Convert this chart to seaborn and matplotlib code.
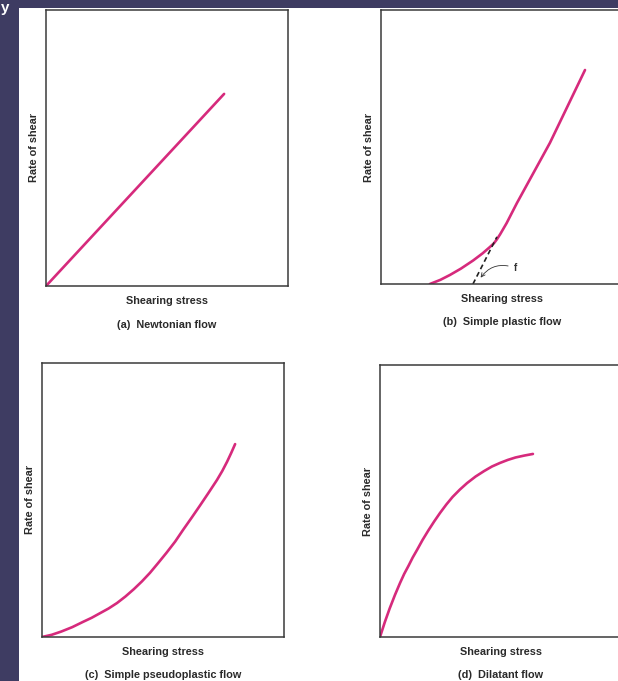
import matplotlib
matplotlib.use('Agg')
import matplotlib.pyplot as plt
from matplotlib.patches import Rectangle
import seaborn as sns
import pandas as pd

sns.set_theme(style='white')
plt.rcParams['font.family'] = ['Liberation Sans', 'DejaVu Sans']

# ── data (axes fractions) ─────────────────────────────────────────
newton_x = [0.0, 0.736]
newton_y = [0.0, 0.696]

plastic_x = [0.202, 0.245, 0.285, 0.330, 0.381, 0.420, 0.450, 0.466, 0.478, 0.492, 0.519, 0.562, 0.698, 0.843]
plastic_y = [0.000, 0.015, 0.033, 0.056, 0.086, 0.112, 0.135, 0.148, 0.162, 0.181, 0.222, 0.296, 0.515, 0.781]
yield_x = [0.380, 0.479]
yield_y = [0.000, 0.172]

pseudo_x = [0.0, 0.04, 0.08, 0.125, 0.169, 0.205, 0.24, 0.275, 0.310, 0.345, 0.38, 0.413,
            0.446, 0.48, 0.515, 0.55, 0.583, 0.618, 0.653, 0.688, 0.723, 0.745, 0.765, 0.782, 0.798]
pseudo_y = [0.0, 0.008, 0.02, 0.036, 0.055, 0.070, 0.087, 0.104, 0.124, 0.148, 0.175, 0.203,
            0.234, 0.270, 0.308, 0.348, 0.391, 0.435, 0.480, 0.526, 0.573, 0.606, 0.640, 0.672, 0.704]

dilat_x = [0.0, 0.02, 0.04, 0.062, 0.083, 0.100, 0.118, 0.135, 0.153, 0.176, 0.20, 0.224, 0.248,
           0.274, 0.30, 0.33, 0.360, 0.395, 0.43, 0.463, 0.496, 0.528, 0.56, 0.596, 0.632]
dilat_y = [0.0, 0.055, 0.105, 0.155, 0.199, 0.232, 0.262, 0.292, 0.320, 0.357, 0.392, 0.425, 0.456,
           0.487, 0.515, 0.542, 0.566, 0.590, 0.610, 0.627, 0.640, 0.651, 0.660, 0.667, 0.673]

captions = ['(a)  Newtonian flow', '(b)  Simple plastic flow',
            '(c)  Simple pseudoplastic flow', '(d)  Dilatant flow']
xlab = 'Shearing stress'
ylab = 'Rate of shear'

curve_col = '#d62a7c'
bg_col = '#3e3c62'
txt_col = '#2a2a2a'

fig = plt.figure(figsize=(6.18, 6.81), dpi=100)
fig.patch.set_facecolor(bg_col)
fig.patches.append(Rectangle((19 / 618, 0), 1, 1 - 8 / 681, transform=fig.transFigure,
                             facecolor='white', edgecolor='none', zorder=-10))
fig.text(0.002, 0.999, 'y', color='white', fontsize=11, fontweight='bold',
         ha='left', va='top', zorder=-5)

boxes = [
    [46 / 618, 1 - 286 / 681, 242 / 618, 276 / 681],
    [381 / 618, 1 - 284 / 681, 242 / 618, 274 / 681],
    [42 / 618, 1 - 637 / 681, 242 / 618, 274 / 681],
    [380 / 618, 1 - 637 / 681, 242 / 618, 272 / 681],
]
series = [(newton_x, newton_y), (plastic_x, plastic_y),
          (pseudo_x, pseudo_y), (dilat_x, dilat_y)]

for i, (box, (xs, ys)) in enumerate(zip(boxes, series)):
    ax = fig.add_axes(box)
    ax.set_zorder(5)
    ax.set_facecolor('white')
    df = pd.DataFrame({'x': xs, 'y': ys})
    sns.lineplot(data=df, x='x', y='y', ax=ax, color=curve_col, lw=1.9,
                 sort=False, estimator=None)
    ax.set_xlim(0, 1)
    ax.set_ylim(0, 1)
    ax.set_xticks([])
    ax.set_yticks([])
    for sp in ax.spines.values():
        sp.set_color('#3a3a3a')
        sp.set_linewidth(1.1)
        sp.set_visible(True)
    ax.set_xlabel(xlab, fontsize=7.8, fontweight='bold', color=txt_col, labelpad=7.5)
    ax.set_ylabel(ylab, fontsize=7.8, fontweight='bold', color=txt_col, labelpad=5)
    ax.text(0.5, -0.14, captions[i], transform=ax.transAxes, ha='center', va='center',
            fontsize=7.8, color=txt_col, fontweight='semibold')
    if i == 1:
        sns.lineplot(x=yield_x, y=yield_y, ax=ax, color='#222222', lw=1.2,
                     linestyle=(0, (3, 2)), sort=False, estimator=None)
        ax.annotate('f', xy=(0.405, 0.015), xytext=(0.55, 0.058), fontsize=7,
                    fontweight='bold', color='#333333', va='center',
                    arrowprops=dict(arrowstyle='->', lw=0.6, color='#333333',
                                    connectionstyle='arc3,rad=0.4'))

fig.savefig('out.png', dpi=100, facecolor=fig.get_facecolor())
